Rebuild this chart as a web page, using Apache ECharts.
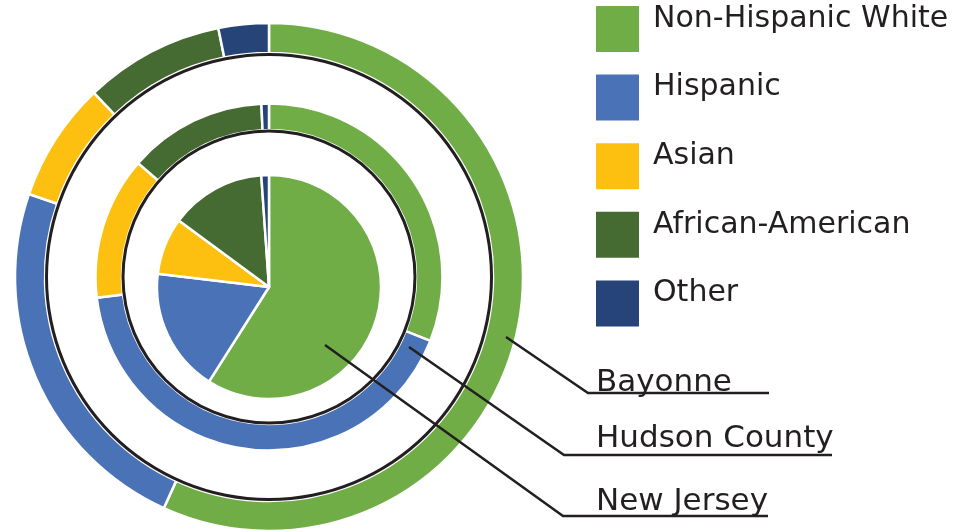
<!DOCTYPE html>
<html>
<head>
<meta charset="utf-8">
<script src="https://cdn.jsdelivr.net/npm/echarts@6/dist/echarts.min.js"></script>
<style>
  html, body { margin: 0; padding: 0; background: #fff; }
  #main { width: 960px; height: 532px; }
</style>
</head>
<body>
<div id="main"></div>
<script>
// groups, clockwise from 12 o'clock
const categories = ['Non-Hispanic White', 'Hispanic', 'Asian', 'African-American', 'Other']
const colors = ['#70ad47', '#4a72b7', '#fdc010', '#456a32', '#264478']

// percent of population
const bayonne = [56.8, 23.5, 7.6, 8.9, 3.2]
const hudson = [31.0, 42.1, 13.3, 12.9, 0.7]
const newJersey = [59.0, 17.9, 8.2, 13.8, 1.1]

const ink = '#231f20'
const font = 'DejaVu Sans'
const ringCenter = [269, 277]
const pieCenter = [269, 287]

// coloured ring / pie for one area
function area(name, values, center, radius) {
    return {
        name: name,
        type: 'pie',
        center: center,
        radius: radius,
        startAngle: 90,
        silent: true,
        z: 2,
        itemStyle: { borderColor: '#fff', borderWidth: 2.5 },
        label: { show: false },
        labelLine: { show: false },
        data: values.map(function (v, i) {
            return { name: categories[i], value: v, itemStyle: { color: colors[i] } }
        })
    }
}

// same geometry again, see-through, only to carry the name tag and its leader above everything
function tag(name, values, center, radius, tagIndex, spot) {
    return {
        name: name + ' tag',
        type: 'pie',
        center: center,
        radius: radius,
        startAngle: 90,
        silent: true,
        z: 8,
        avoidLabelOverlap: false,
        itemStyle: { color: 'rgba(0,0,0,0)', borderWidth: 0 },
        label: { show: false },
        labelLine: { show: false },
        data: values.map(function (v, i) {
            let item = { name: categories[i], value: v }
            if (i === tagIndex) {
                item.label = {
                    show: true,
                    position: 'outside',
                    formatter: name,
                    color: ink,
                    fontFamily: font,
                    fontSize: 31
                }
                item.labelLine = { show: true, lineStyle: { color: ink, width: 2.5 } }
            }
            return item
        }),
        labelLayout: function (params) {
            if (params.dataIndex !== tagIndex) return {}
            return {
                x: spot.x,
                y: spot.y,
                align: 'left',
                verticalAlign: 'middle',
                labelLinePoints: spot.line
            }
        }
    }
}

// thin black outline circles
function outline(radius) {
    return {
        type: 'pie',
        center: ringCenter,
        radius: radius,
        silent: true,
        z: 6,
        label: { show: false },
        labelLine: { show: false },
        itemStyle: { color: ink },
        data: [{ name: '', value: 1 }]
    }
}

const chart = echarts.init(document.getElementById('main'))

let option = {
    animation: false,
    color: colors,
    legend: {
        orient: 'vertical',
        left: 596,
        top: 4,
        padding: 0,
        itemWidth: 43,
        itemHeight: 46,
        itemGap: 18.6,
        itemStyle: { borderWidth: 0 },
        icon: 'rect',
        selectedMode: false,
        data: categories,
        // second blank line lifts the name toward the top of the swatch
        formatter: function (name) {
            return name + '\n '
        },
        textStyle: {
            color: ink,
            fontFamily: font,
            fontSize: 30,
            lineHeight: 20,
            padding: [0, 0, 0, 9]
        }
    },
    series: [
        area('Bayonne', bayonne, ringCenter, [224, 254]),
        area('Hudson County', hudson, ringCenter, [147, 173.5]),
        area('New Jersey', newJersey, pieCenter, [0, 112]),
        outline([144.5, 147.5]),
        outline([221, 224]),
        tag('Bayonne', bayonne, ringCenter, [224, 254], 0,
            { x: 596, y: 383, line: [[506, 337], [588, 393], [769, 393]] }),
        tag('Hudson County', hudson, ringCenter, [147, 173.5], 1,
            { x: 596, y: 439, line: [[409, 347], [564, 455], [832, 455]] }),
        tag('New Jersey', newJersey, pieCenter, [0, 112], 0,
            { x: 596, y: 502, line: [[325, 345], [563, 516], [768, 516]] })
    ]
}

chart.setOption(option)
</script>
</body>
</html>
